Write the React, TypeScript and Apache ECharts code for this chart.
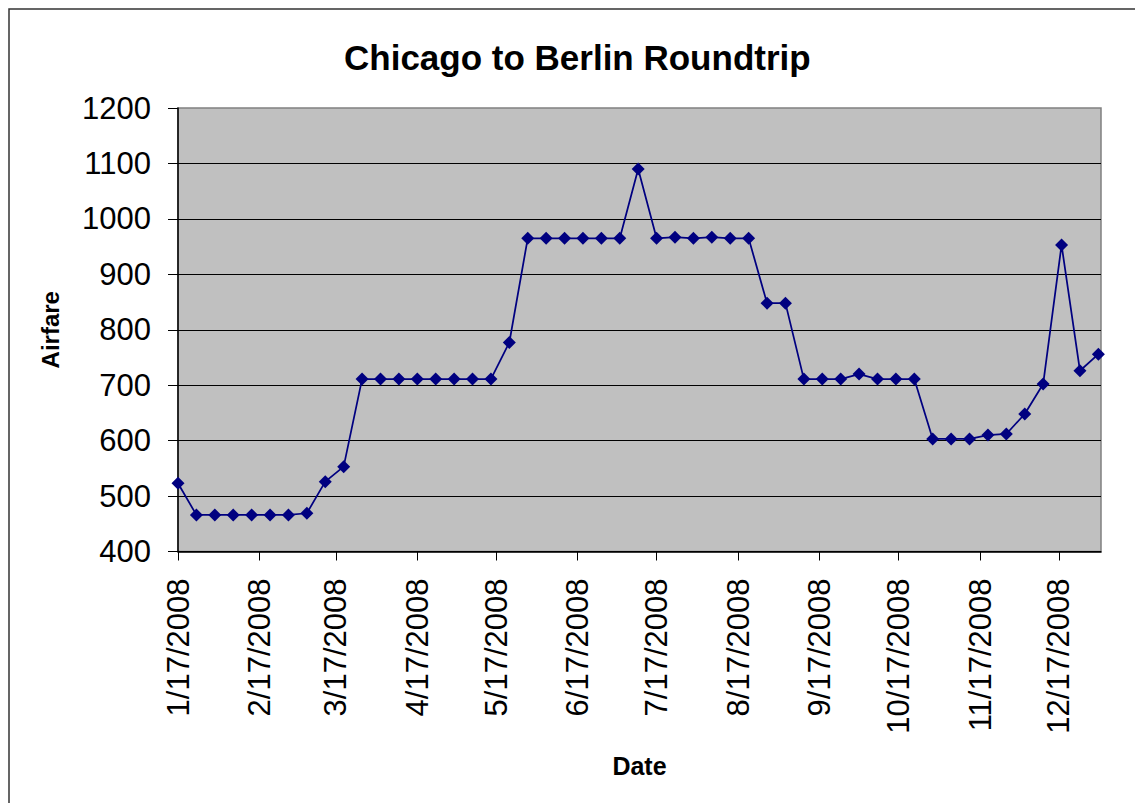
import React, { useEffect, useRef } from "react";
import * as echarts from "echarts";

const dates: string[] = [
  "2008-01-17", "2008-01-24", "2008-01-31",
  "2008-02-07", "2008-02-14", "2008-02-21", "2008-02-28",
  "2008-03-06", "2008-03-13", "2008-03-20", "2008-03-27",
  "2008-04-03", "2008-04-10", "2008-04-17", "2008-04-24",
  "2008-05-01", "2008-05-08", "2008-05-15", "2008-05-22", "2008-05-29",
  "2008-06-05", "2008-06-12", "2008-06-19", "2008-06-26",
  "2008-07-03", "2008-07-10", "2008-07-17", "2008-07-24", "2008-07-31",
  "2008-08-07", "2008-08-14", "2008-08-21", "2008-08-28",
  "2008-09-04", "2008-09-11", "2008-09-18", "2008-09-25",
  "2008-10-02", "2008-10-09", "2008-10-16", "2008-10-23", "2008-10-30",
  "2008-11-06", "2008-11-13", "2008-11-20", "2008-11-27",
  "2008-12-04", "2008-12-11", "2008-12-18", "2008-12-25",
  "2009-01-01",
];

const airfare: number[] = [
  523, 466, 466, 466, 466, 466, 466, 469, 526, 553,
  711, 711, 711, 711, 711, 711, 711, 711, 777,
  965, 965, 965, 965, 965, 965, 1090,
  965, 967, 965, 967, 965, 965,
  848, 848,
  711, 711, 711, 720, 711, 711, 711,
  603, 603, 603, 610, 612, 648, 702, 953, 726, 756,
];

const tickLabels: string[] = [
  "1/17/2008", "2/17/2008", "3/17/2008", "4/17/2008", "5/17/2008", "6/17/2008",
  "7/17/2008", "8/17/2008", "9/17/2008", "10/17/2008", "11/17/2008", "12/17/2008",
];

const axisStart = "2008-01-17";
const axisEnd = "2009-01-02";

const yTicks = { min: 400, max: 1200, interval: 100 };

const FONT = "'Liberation Sans', Arial, sans-serif";

function isoToUTC(s: string): number {
  const [y, m, d] = s.split("-").map(Number);
  return Date.UTC(y, m - 1, d);
}
function labelToUTC(s: string): number {
  const [m, d, y] = s.split("/").map(Number);
  return Date.UTC(y, m - 1, d);
}
function fmt(v: number): string {
  const d = new Date(v);
  return `${d.getUTCMonth() + 1}/${d.getUTCDate()}/${d.getUTCFullYear()}`;
}

export default function App() {
  const ref = useRef<HTMLDivElement>(null);

  useEffect(() => {
    if (!ref.current) return;
    const chart = echarts.init(ref.current, undefined, { renderer: "svg" });
    const tickValues = tickLabels.map(labelToUTC);
    const option: any = {
      animation: false,
      backgroundColor: "#ffffff",
      title: {
        text: "Chicago to Berlin Roundtrip",
        left: 339,
        top: 35,
        textStyle: { fontFamily: FONT, fontSize: 35, fontWeight: "bold", color: "#000" },
      },
      graphic: [
        {
          type: "rect",
          shape: { x: 9, y: 9, width: 1150, height: 820 },
          style: { fill: "none", stroke: "#333333", lineWidth: 1.5 },
          silent: true,
        },
      ],
      grid: {
        left: 178,
        top: 108,
        width: 923,
        height: 443.5,
        show: true,
        backgroundColor: "#c0c0c0",
        borderColor: "#808080",
        borderWidth: 1.5,
        containLabel: false,
      },
      xAxis: {
        type: "value",
        min: isoToUTC(axisStart),
        max: isoToUTC(axisEnd),
        name: "Date",
        nameLocation: "middle",
        nameGap: 202,
        nameTextStyle: { fontFamily: FONT, fontSize: 25, fontWeight: "bold", color: "#000" },
        axisLine: { show: true, lineStyle: { color: "#000", width: 1.5 } },
        axisTick: { show: true, length: 9, lineStyle: { color: "#000" }, customValues: tickValues },
        axisLabel: {
          show: true,
          rotate: 90,
          margin: 27,
          fontFamily: FONT,
          fontSize: 31,
          color: "#000",
          customValues: tickValues,
          formatter: (v: number) => fmt(v),
          hideOverlap: false,
        },
        splitLine: { show: false },
      },
      yAxis: {
        type: "value",
        min: yTicks.min,
        max: yTicks.max,
        interval: yTicks.interval,
        name: "Airfare",
        nameLocation: "middle",
        nameGap: 116,
        nameTextStyle: { fontFamily: FONT, fontSize: 24, fontWeight: "bold", color: "#000" },
        axisLine: { show: true, lineStyle: { color: "#000", width: 1.5 } },
        axisTick: { show: true, length: 10, lineStyle: { color: "#000" } },
        axisLabel: {
          margin: 27,
          fontFamily: FONT,
          fontSize: 31,
          color: "#000",
          formatter: (v: number) => String(v),
        },
        splitLine: { show: true, showMaxLine: false, lineStyle: { color: "#000", width: 1 } },
      },
      series: [
        {
          type: "line",
          data: dates.map((d, i) => [isoToUTC(d), airfare[i]]),
          symbol: "diamond",
          symbolSize: 13,
          showAllSymbol: true,
          lineStyle: { color: "#000080", width: 1.75 },
          itemStyle: { color: "#000080" },
        },
      ],
    };
    chart.setOption(option);
    return () => chart.dispose();
  }, []);

  return (
    <div
      ref={ref}
      style={{ position: "fixed", left: 0, top: 0, width: 1135, height: 803 }}
    />
  );
}
